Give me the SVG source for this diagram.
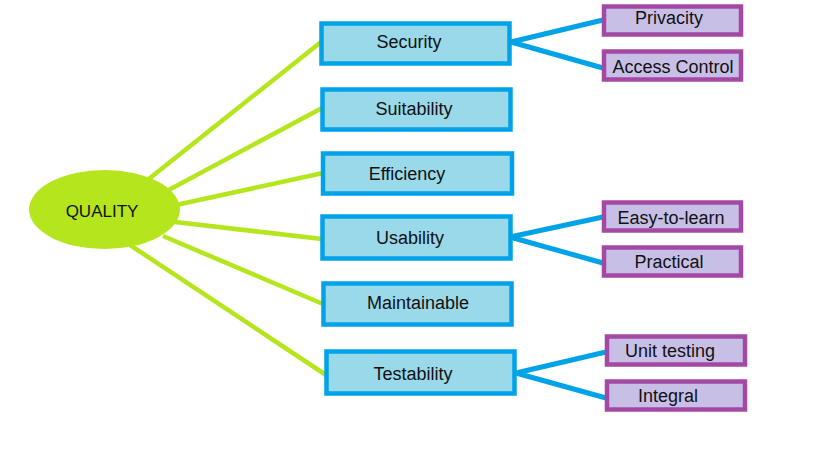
<svg xmlns="http://www.w3.org/2000/svg" width="819" height="460" viewBox="0 0 819 460">
<style>
.g{stroke:#B5E61D;stroke-width:4.5;fill:none}
.b{stroke:#00A2E8;stroke-width:5;fill:none}
.box{fill:#99D9EA;stroke:#00A2E8;stroke-width:4.5}
.sub{fill:#C8BFE7;stroke:#A349A4;stroke-width:4.5}
text{font-family:"Liberation Sans",Arial,sans-serif;font-size:18px;fill:#111;text-anchor:middle;dominant-baseline:central}
</style>
<rect width="819" height="460" fill="#fff"/>
<g id="connectors">
<line class="g" x1="145" y1="182" x2="321" y2="42"/>
<line class="g" x1="165" y1="192" x2="322" y2="108"/>
<line class="g" x1="176" y1="205" x2="323" y2="173"/>
<line class="g" x1="175" y1="222" x2="322" y2="239"/>
<line class="g" x1="163" y1="236" x2="323" y2="304"/>
<line class="g" x1="130" y1="245" x2="326" y2="375"/>
<line class="b" x1="511" y1="42" x2="603" y2="20"/>
<line class="b" x1="511" y1="42" x2="603" y2="68"/>
<line class="b" x1="510" y1="237" x2="603" y2="217"/>
<line class="b" x1="510" y1="237" x2="603" y2="263"/>
<line class="b" x1="516" y1="373" x2="606" y2="352"/>
<line class="b" x1="516" y1="373" x2="606" y2="398"/>
</g>
<g id="quality"><ellipse cx="104.5" cy="209.5" rx="75.5" ry="39.5" fill="#B5E61D"/><text x="102" y="211" style="font-size:17px">QUALITY</text></g>
<g id="security"><rect class="box" x="321.5" y="23.5" width="188" height="40"/><text x="409" y="42">Security</text></g>
<g id="suitability"><rect class="box" x="322.5" y="89.5" width="188" height="40"/><text x="414" y="109">Suitability</text></g>
<g id="efficiency"><rect class="box" x="323" y="153.5" width="189" height="40"/><text x="407" y="174">Efficiency</text></g>
<g id="usability"><rect class="box" x="322.5" y="216.5" width="188" height="42"/><text x="410" y="238">Usability</text></g>
<g id="maintainable"><rect class="box" x="323.5" y="283.5" width="188" height="41"/><text x="418" y="303">Maintainable</text></g>
<g id="testability"><rect class="box" x="326.5" y="351.5" width="188" height="42"/><text x="413" y="374">Testability</text></g>
<g id="privacity"><rect class="sub" x="604" y="6.5" width="137" height="28"/><text x="669" y="18">Privacity</text></g>
<g id="access-control"><rect class="sub" x="604" y="51.5" width="137" height="28"/><text x="673" y="67">Access Control</text></g>
<g id="easy-to-learn"><rect class="sub" x="604" y="202.5" width="137" height="28"/><text x="671" y="218">Easy-to-learn</text></g>
<g id="practical"><rect class="sub" x="604" y="247.5" width="137" height="28"/><text x="669" y="262">Practical</text></g>
<g id="unit-testing"><rect class="sub" x="607" y="336.5" width="138" height="28"/><text x="670" y="351">Unit testing</text></g>
<g id="integral"><rect class="sub" x="607" y="381.5" width="138" height="28"/><text x="668" y="396">Integral</text></g>
</svg>
